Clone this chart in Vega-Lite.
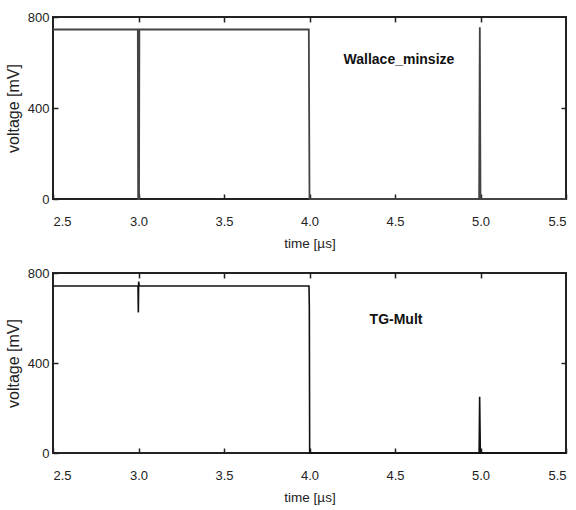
{
  "$schema": "https://vega.github.io/schema/vega-lite/v6.json",
  "padding": {"left": 4, "top": 10, "right": 0, "bottom": 0},
  "spacing": 15,
  "config": {
    "font": "Liberation Sans",
    "view": {"stroke": "#222", "strokeWidth": 2},
    "axis": {
      "grid": false,
      "domain": false,
      "tickColor": "#222",
      "tickWidth": 1.5,
      "tickSize": -5,
      "labelColor": "#222",
      "titleColor": "#222",
      "labelFontSize": 13,
      "titleFontSize": 13.5,
      "titleFontWeight": "normal"
    }
  },
  "datasets": {
    "wallace": [
      {"t": 2.5, "v": 745},
      {"t": 2.996, "v": 745},
      {"t": 2.998, "v": 0},
      {"t": 3.003, "v": 0},
      {"t": 3.005, "v": 745},
      {"t": 3.996, "v": 745},
      {"t": 4.0, "v": 0},
      {"t": 4.992, "v": 0},
      {"t": 4.996, "v": 755},
      {"t": 5.0, "v": 0},
      {"t": 5.5, "v": 0}
    ],
    "tg": [
      {"t": 2.5, "v": 742},
      {"t": 2.997, "v": 742},
      {"t": 2.999, "v": 625},
      {"t": 3.001, "v": 762},
      {"t": 3.004, "v": 745},
      {"t": 3.01, "v": 742},
      {"t": 3.997, "v": 742},
      {"t": 3.999, "v": 650},
      {"t": 4.001, "v": 0},
      {"t": 4.992, "v": 0},
      {"t": 4.995, "v": 250},
      {"t": 4.999, "v": 0},
      {"t": 5.5, "v": 0}
    ]
  },
  "vconcat": [
    {
      "width": 513,
      "height": 182,
      "layer": [
        {
          "data": {"name": "wallace"},
          "mark": {"type": "line", "color": "#444", "strokeWidth": 1.8},
          "encoding": {
            "x": {"field": "t", "type": "quantitative",
              "scale": {"domain": [2.5, 5.5], "nice": false, "zero": false},
              "axis": {"orient": "bottom", "values": [2.5, 3, 3.5, 4, 4.5, 5, 5.5], "format": ".1f", "labelPadding": 21, "title": "time [µs]", "titlePadding": 8}},
            "y": {"field": "v", "type": "quantitative",
              "scale": {"domain": [0, 800], "nice": false},
              "axis": {"orient": "left", "values": [0, 400, 800], "labelPadding": 9, "title": "voltage [mV]", "titleFontSize": 16, "titlePadding": 6}}
          }
        },
        {
          "data": {"values": [{"label": "Wallace_minsize"}]},
          "mark": {"type": "text", "font": "Liberation Sans", "fontWeight": "bold", "fontSize": 14, "color": "#111"},
          "encoding": {
            "x": {"datum": 4.523, "type": "quantitative", "axis": {"orient": "top", "values": [3, 3.5, 4, 4.5, 5], "labels": false, "title": null}},
            "y": {"datum": 611, "type": "quantitative", "axis": {"orient": "right", "values": [400], "labels": false, "title": null}},
            "text": {"field": "label"}
          }
        }
      ],
      "resolve": {"axis": {"x": "independent", "y": "independent"}}
    },
    {
      "width": 513,
      "height": 180,
      "layer": [
        {
          "data": {"name": "tg"},
          "mark": {"type": "line", "color": "#111", "strokeWidth": 1.6},
          "encoding": {
            "x": {"field": "t", "type": "quantitative",
              "scale": {"domain": [2.5, 5.5], "nice": false, "zero": false},
              "axis": {"orient": "bottom", "values": [2.5, 3, 3.5, 4, 4.5, 5, 5.5], "format": ".1f", "labelPadding": 21, "title": "time [µs]", "titlePadding": 8}},
            "y": {"field": "v", "type": "quantitative",
              "scale": {"domain": [0, 800], "nice": false},
              "axis": {"orient": "left", "values": [0, 400, 800], "labelPadding": 9, "title": "voltage [mV]", "titleFontSize": 16, "titlePadding": 6}}
          }
        },
        {
          "data": {"values": [{"label": "TG-Mult"}]},
          "mark": {"type": "text", "font": "Liberation Sans", "fontWeight": "bold", "fontSize": 14, "color": "#111"},
          "encoding": {
            "x": {"datum": 4.506, "type": "quantitative", "axis": {"orient": "top", "values": [3, 3.5, 4, 4.5, 5], "labels": false, "title": null}},
            "y": {"datum": 593, "type": "quantitative", "axis": {"orient": "right", "values": [400], "labels": false, "title": null}},
            "text": {"field": "label"}
          }
        }
      ],
      "resolve": {"axis": {"x": "independent", "y": "independent"}}
    }
  ]
}
